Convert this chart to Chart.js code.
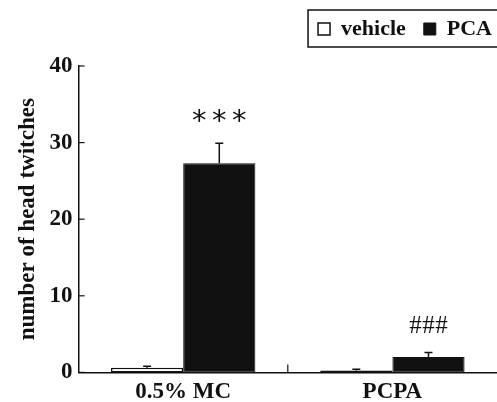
<!DOCTYPE html>
<html>
<head>
<meta charset="utf-8">
<script src="https://cdn.jsdelivr.net/npm/chart.js@4/dist/chart.umd.min.js"></script>
<style>
  html, body { margin: 0; padding: 0; background: #fff; }
  canvas { display: block; }
</style>
</head>
<body>
<canvas id="twitchChart" width="497" height="402"></canvas>
<script>
// data
const groups = ['0.5% MC', 'PCPA'];
const vehicleMeans = [0.6, 0.25];
const vehicleErrors = [0.2, 0.15];
const pcaMeans = [27.3, 2.0];
const pcaErrors = [2.6, 0.6];
const pcaMarks = ['***', '###'];
const yTicks = [0, 10, 20, 30, 40];

const serif = '"Liberation Serif", "Times New Roman", serif';

// error bars (upward only, with cap) + significance marks
const errorBarPlugin = {
    id: 'errorBars',
    afterDatasetsDraw(chart) {
        const ctx = chart.ctx;
        const yScale = chart.scales.y;
        ctx.save();
        ctx.strokeStyle = '#111';
        ctx.lineWidth = 1.5;
        chart.data.datasets.forEach(function(ds, i) {
            const meta = chart.getDatasetMeta(i);
            meta.data.forEach(function(bar, j) {
                const top = yScale.getPixelForValue(ds.data[j] + ds.errors[j]);
                ctx.beginPath();
                ctx.moveTo(bar.x, bar.y);
                ctx.lineTo(bar.x, top);
                ctx.moveTo(bar.x - 4, top);
                ctx.lineTo(bar.x + 4, top);
                ctx.stroke();
                if (ds.marks) {
                    const mark = ds.marks[j];
                    const star = mark[0] === '*';
                    ctx.fillStyle = '#111';
                    ctx.font = star ? '29px "DejaVu Sans", sans-serif' : '25px ' + serif;
                    ctx.textAlign = 'center';
                    ctx.textBaseline = 'middle';
                    const gap = star ? 20 : 13;
                    const cy = top - 26 + (star ? 5 : 0);
                    mark.split('').forEach(function(c, k) {
                        ctx.fillText(c, bar.x + (k - 1) * gap, cy);
                    });
                }
            });
        });
        ctx.restore();
    }
};

// inward ticks on both axes
const innerTicksPlugin = {
    id: 'innerTicks',
    afterDraw(chart) {
        const ctx = chart.ctx;
        const area = chart.chartArea;
        const x = chart.scales.x;
        const y = chart.scales.y;
        ctx.save();
        ctx.strokeStyle = '#111';
        ctx.lineWidth = 1.2;
        y.ticks.forEach(function(t, i) {
            const py = y.getPixelForTick(i);
            ctx.beginPath();
            ctx.moveTo(area.left, py);
            ctx.lineTo(area.left + 6, py);
            ctx.stroke();
        });
        for (let i = 1; i < groups.length; i++) {
            const px = (x.getPixelForValue(i - 1) + x.getPixelForValue(i)) / 2;
            ctx.beginPath();
            ctx.moveTo(px, area.bottom);
            ctx.lineTo(px, area.bottom - 8);
            ctx.stroke();
        }
        ctx.restore();
    }
};

// move legend to the top right corner and frame it
const legendFramePlugin = {
    id: 'legendFrame',
    afterLayout(chart) {
        const lg = chart.legend;
        lg.left += 13;
        lg.right += 13;
        lg.top -= 16;
        lg.bottom -= 16;
    },
    afterDraw(chart) {
        const lg = chart.legend;
        const ctx = chart.ctx;
        const left = lg.right - lg.lineWidths[0] - 10;
        ctx.save();
        ctx.strokeStyle = '#111';
        ctx.lineWidth = 1.5;
        ctx.strokeRect(left, 10, chart.width - left + 2, 37);
        ctx.restore();
    }
};

function createChart() {
    const ctx = document.getElementById('twitchChart').getContext('2d');
    const config = {
        type: 'bar',
        data: {
            labels: groups,
            datasets: [{
                label: 'vehicle',
                data: vehicleMeans,
                errors: vehicleErrors,
                backgroundColor: '#ffffff',
                borderColor: '#111111',
                borderWidth: 1.5,
                borderSkipped: false
            }, {
                label: 'PCA',
                data: pcaMeans,
                errors: pcaErrors,
                marks: pcaMarks,
                backgroundColor: '#111111',
                borderColor: '#111111',
                borderWidth: 1,
                borderSkipped: false
            }]
        },
        options: {
            responsive: false,
            animation: false,
            layout: { padding: { top: 16, right: 0, bottom: -10, left: 14 } },
            datasets: {
                bar: { barPercentage: 1, categoryPercentage: 0.69 }
            },
            scales: {
                x: {
                    grid: { display: false, drawTicks: false },
                    border: { display: true, color: '#111', width: 1.5 },
                    ticks: {
                        color: '#111',
                        padding: 6,
                        font: { family: serif, size: 23, weight: 'bold' }
                    }
                },
                y: {
                    min: 0,
                    max: 40,
                    afterBuildTicks: function(axis) {
                        axis.ticks = yTicks.map(v => ({ value: v }));
                    },
                    grid: { display: false, drawTicks: false },
                    border: { display: true, color: '#111', width: 1.5 },
                    ticks: {
                        color: '#111',
                        padding: 6,
                        font: { family: serif, size: 23, weight: 'bold' }
                    },
                    title: {
                        display: true,
                        text: 'number of head twitches',
                        color: '#111',
                        padding: { top: 0, bottom: 2 },
                        font: { family: serif, size: 23, weight: 'bold' }
                    }
                }
            },
            plugins: {
                legend: {
                    position: 'top',
                    align: 'end',
                    labels: {
                        color: '#111',
                        boxWidth: 12,
                        boxHeight: 12,
                        padding: 18,
                        font: { family: serif, size: 22, weight: 'bold' }
                    }
                },
                tooltip: { enabled: false }
            }
        },
        plugins: [errorBarPlugin, innerTicksPlugin, legendFramePlugin]
    };
    new Chart(ctx, config);
}

window.onload = function() {
    createChart();
};
</script>
</body>
</html>
